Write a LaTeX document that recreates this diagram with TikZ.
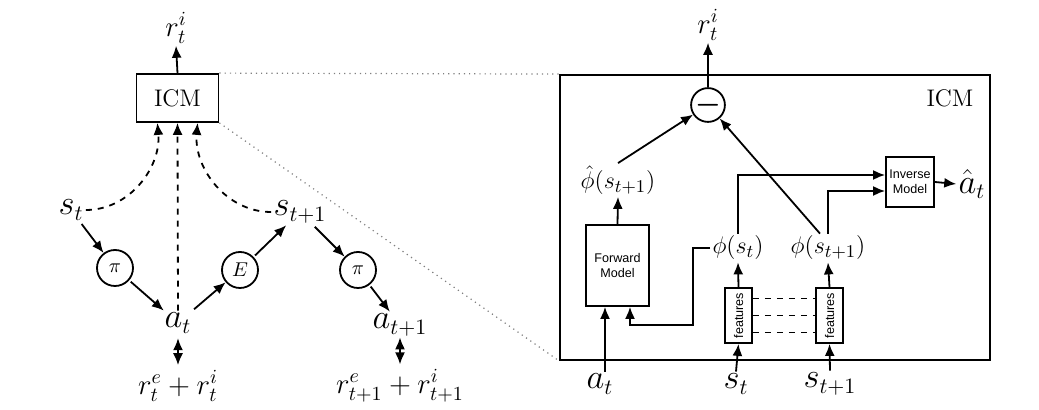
\documentclass[tikz,border=0pt]{standalone}
\usepackage{amsmath}
\usepackage{fontspec}
\setsansfont{Liberation Sans}
\usetikzlibrary{arrows,arrows.meta,shapes,calc,positioning}
\tikzstyle{edge}  =[->, >={Latex[length=6pt,width=5pt]}, line width=0.9pt]
\tikzstyle{dedge} =[edge, dashed]
\tikzstyle{link}  =[line width=0.9pt, dashed]
\tikzstyle{zoomline}=[gray, dotted, line width=0.6pt]
\tikzstyle{var}   =[inner sep=1pt, font=\fontsize{16}{19}\selectfont]
\tikzstyle{emb}   =[inner sep=1pt, font=\fontsize{13}{16}\selectfont]
\tikzstyle{pol}   =[circle, draw, minimum size=18pt,
                    line width=0.9pt, inner sep=0pt]
\tikzstyle{blk}   =[rectangle, draw, line width=0.9pt,
                    inner sep=1pt, align=center,
                    font=\sffamily\fontsize{6.3}{7.5}\selectfont]

\begin{document}
\begin{tikzpicture}[x=0.5pt,y=-0.5pt]
    \useasboundingbox (0,0) rectangle (1039,410);

        % agent loop
        \draw (176,28) node (rti) [var,font=\Large] {$r_t^i$};
        \draw (177.5,98) node (icm) [blk,minimum width=41pt,minimum height=24pt,
            font=\large] {ICM};
        \draw (71,210) node (s0) [var] {$s_t$};
        \draw (300,212) node (s1) [var] {$s_{t+1}$};
        \draw (115,268) node (pol0) [pol] {$\pi$};
        \draw (240,270) node (env) [pol] {$E$};
        \draw (358,270) node (pol1) [pol] {$\pi$};
        \draw (178,323) node (a0) [var] {$a_t$};
        \draw (400,325) node (a1) [var] {$a_{t+1}$};
        \draw (178,386) node (rew0) [var,font=\Large] {$r_t^e+r_t^i$};
        \draw (400,386) node (rew1) [var,font=\Large] {$r_{t+1}^e+r_{t+1}^i$};

        \foreach \i/\j in{s0/pol0,pol0/a0,a0/env,env/s1,s1/pol1,pol1/a1}
            \draw [edge,shorten <=1pt] (\i) to (\j);

        \foreach \i/\j in{a0/rew0,a1/rew1}
            \draw [edge,<->] ($(\j.north)+(0,-30)$) to ($(\j.north)+(0,-3)$);

        \draw [edge] (icm.north) -- (rti.south);
        \draw [dedge] (s0.east) to[out=0,in=-85] ($(icm.south west)!0.26!(icm.south east)$);
        \draw [dedge] (a0.north) -- (icm.south);
        \draw [dedge] (s1.west) to[out=180,in=-95] ($(icm.south west)!0.74!(icm.south east)$);

        % inside the ICM
        \draw (775,217.5) node (big) [rectangle,draw,line width=0.9pt,
            minimum width=215pt,minimum height=142.5pt] {};
        \draw (950,98) node (icmlbl) [font=\large] {ICM};
        \draw (708,25) node (rti2) [var,font=\Large] {$r_t^i$};
        \draw (708,105) node (minus) [pol,minimum size=16.5pt] {\Large$\boldsymbol{-}$};
        \draw (618,180) node (phihat) [emb] {$\hat{\phi}(s_{t+1})$};
        \draw (617.5,265.5) node (fwd) [blk,minimum width=31.5pt,minimum height=40.5pt]
            {Forward\\Model};
        \draw (738,248) node (phi0) [emb] {$\phi(s_t)$};
        \draw (828,248) node (phi1) [emb] {$\phi(s_{t+1})$};
        \draw (738.5,315.5) node (feat0) [blk,minimum width=13.5pt,minimum height=27.5pt]
            {\rotatebox{90}{features}};
        \draw (829.5,315.5) node (feat1) [blk,minimum width=13.5pt,minimum height=27.5pt]
            {\rotatebox{90}{features}};
        \draw (910,182) node (inv) [blk,minimum width=24pt,minimum height=25pt]
            {Inverse\\Model};
        \draw (972,184) node (ahat) [var] {$\hat{a}_t$};
        \draw (600,384) node (a2) [var] {$a_t$};
        \draw (736,384) node (s2) [var] {$s_t$};
        \draw (830,384) node (s3) [var] {$s_{t+1}$};
        \coordinate (fin) at ($(fwd.south)+(-12.5,0)$);

        \draw [edge] (minus.north) -- (rti2.south);
        \draw [edge] (phihat.north) -- (minus);
        \draw [edge] ($(phi1.north)+(-8,0)$) -- (minus);
        \draw [edge] (fwd.north) -- (phihat.south);
        \draw [edge] (fin |- a2.north) -- (fin);
        \draw [edge] (phi0.west) -| ++(-17,77) -| ($(fwd.south)+(12.5,0)$);
        \draw [edge] (phi0.north) |- ($(inv.west)+(0,-7)$);
        \draw [edge] (phi1.north) |- ($(inv.west)+(0,9)$);
        \draw [edge] (inv.east) -- (ahat.west);

        \foreach \i/\j in{s2/feat0,s3/feat1,feat0/phi0,feat1/phi1}
            \draw [edge] (\i.north) to (\j.south);

        \foreach \k in{-17,0,17}
            \draw [link] ($(feat0.east)+(0,\k)$) -- ($(feat1.west)+(0,\k)$);

        \draw [zoomline] (icm.north east) -- (big.north west);
        \draw [zoomline] (icm.south east) -- (big.south west);

    \end{tikzpicture}
\end{document}
